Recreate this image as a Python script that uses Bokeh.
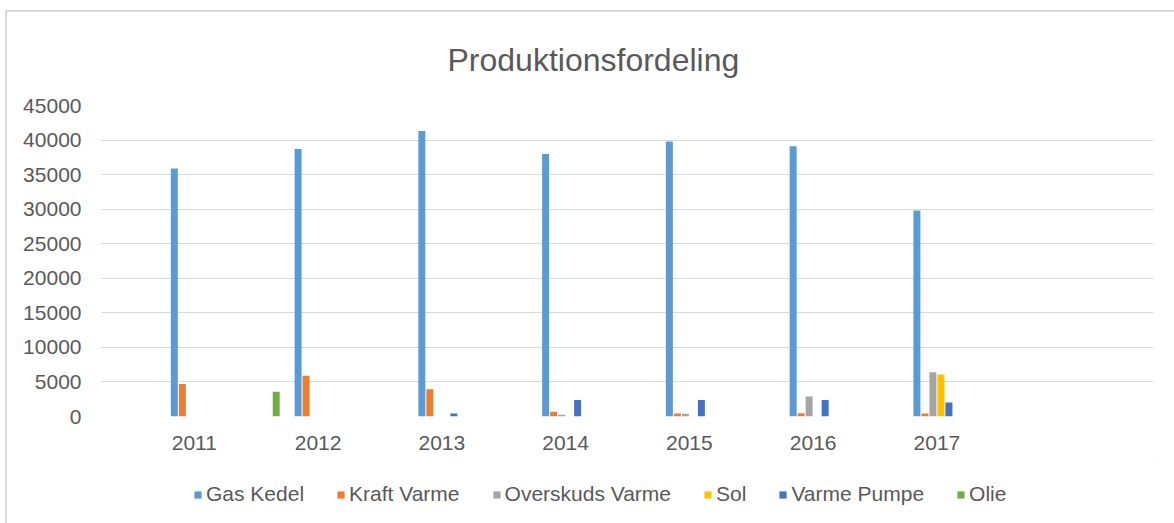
from bokeh.plotting import figure
from bokeh.layouts import column
from bokeh.models import FixedTicker, Legend, LegendItem, ColumnDataSource, Range1d, NumeralTickFormatter
from bokeh.embed import file_html
from bokeh.resources import INLINE

# ---- data ----
categories = ["", "2011", "", "2012", "", "2013", "", "2014", "", "2015", "", "2016", "", "2017", "", "", ""]
series_names = ["Gas Kedel", "Kraft Varme", "Overskuds Varme", "Sol", "Varme Pumpe", "Olie"]
gas_kedel       = [0, 35900, 0, 38700, 0, 41300, 0, 38000, 0, 39800, 0, 39100, 0, 29800, 0, 0, 0]
kraft_varme     = [0, 4700, 0, 5900, 0, 3950, 0, 680, 0, 430, 0, 480, 0, 430, 0, 0, 0]
overskuds_varme = [0, 0, 0, 0, 0, 0, 0, 250, 0, 400, 0, 2900, 0, 6400, 0, 0, 0]
sol             = [0, 0, 0, 0, 0, 0, 0, 0, 0, 0, 0, 0, 0, 6080, 0, 0, 0]
varme_pumpe     = [0, 0, 0, 0, 0, 430, 0, 2370, 0, 2370, 0, 2370, 0, 2030, 0, 0, 0]
olie            = [0, 0, 3570, 0, 0, 0, 0, 0, 0, 0, 0, 0, 0, 0, 0, 0, 0]
y_ticks = [0, 5000, 10000, 15000, 20000, 25000, 30000, 35000, 40000, 45000]
colors = ["#5B9BD5", "#ED7D31", "#A5A5A5", "#FFC000", "#4472C4", "#70AD47"]

all_series = [gas_kedel, kraft_varme, overskuds_varme, sol, varme_pumpe, olie]

FONT = "Liberation Sans"
TXT = "#595959"

# ---- main chart ----
p = figure(width=1167, height=449, output_backend="svg", toolbar_location=None,
           x_range=Range1d(0, len(categories)), y_range=Range1d(0, 45000),
           min_border_left=94, min_border_right=21, min_border_top=93, min_border_bottom=45)

cat_px = 1052 / len(categories)
step = 8 / cat_px
bw = 7 / cat_px

for k, (name, vals, col) in enumerate(zip(series_names, all_series, colors)):
    off = (k - 2.5) * step
    xs = [i + 0.5 + off for i, v in enumerate(vals) if v > 0]
    ts = [v for v in vals if v > 0]
    src = ColumnDataSource(dict(x=xs, top=ts))
    p.vbar(x="x", top="top", bottom=0, width=bw, source=src,
           fill_color=col, line_color=None)

p.xaxis.ticker = FixedTicker(ticks=[i + 0.5 for i, c in enumerate(categories) if c])
p.xaxis.major_label_overrides = {i + 0.5: c for i, c in enumerate(categories) if c}
p.yaxis.ticker = FixedTicker(ticks=y_ticks)
p.yaxis.formatter = NumeralTickFormatter(format="0")
for ax in (p.xaxis[0], p.yaxis[0]):
    ax.axis_line_color = None
    ax.major_tick_line_color = None
    ax.minor_tick_line_color = None
    ax.major_tick_out = 0
    ax.major_tick_in = 0
    ax.minor_tick_out = 0
    ax.major_label_text_font = FONT
    ax.major_label_text_font_size = "21px"
    ax.major_label_text_color = TXT
p.yaxis.major_label_standoff = 20
p.xaxis.major_label_standoff = 19

p.xgrid.grid_line_color = None
p.ygrid.grid_line_color = "#d9d9d9"
p.ygrid.grid_line_width = 1
p.outline_line_color = None

p.title.text = "Produktionsfordeling"
p.title.align = "left"
p.title.offset = 346
p.title.standoff = 55
p.title.text_font = FONT
p.title.text_font_size = "32px"
p.title.text_font_style = "normal"
p.title.text_color = TXT

# ---- legend strip ----
lg = figure(width=1167, height=62, output_backend="svg", toolbar_location=None,
            x_range=Range1d(0, 1), y_range=Range1d(0, 1),
            min_border=0, x_axis_type=None, y_axis_type=None)
lg.xgrid.grid_line_color = None
lg.ygrid.grid_line_color = None
lg.outline_line_color = None

items = []
for name, col in zip(series_names, colors):
    # legend swatch renderer, kept outside the visible range of the strip
    r = lg.vbar(x=[5], top=[5], bottom=4, width=0.1, fill_color=col, line_color=None)
    items.append(LegendItem(label=name, renderers=[r]))

legend = Legend(items=items, orientation="horizontal", location=(92, 17),
                glyph_width=9, glyph_height=9, label_standoff=4, spacing=32,
                padding=0, margin=0,
                label_text_font=FONT, label_text_font_size="21px", label_text_color=TXT,
                border_line_color=None, background_fill_alpha=0)
lg.add_layout(legend, "center")

layout = column(p, lg, spacing=0)
layout.styles = {"margin-left": "5px", "margin-top": "10px",
                 "border-left": "2px solid #d9d9d9", "border-top": "2px solid #d9d9d9"}

open("out.html", "w").write(file_html(layout, INLINE))
